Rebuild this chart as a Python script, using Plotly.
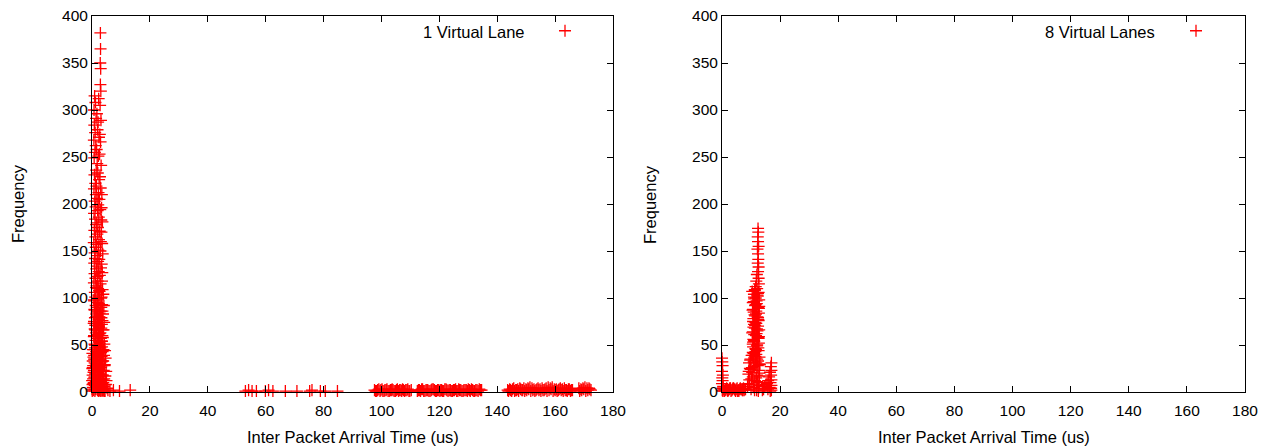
import plotly.graph_objects as go

# ---------------- 1 Virtual Lane : main cluster (x in us, y = frequency) ----------------
vl1_a_x = [0.02, 0.05, 0.08, 0.12, 0.15, 0.18, 0.22, 0.26, 0.30, 0.34, 0.38, 0.42, 0.46, 0.50, 0.55, 0.60]
vl1_a_y = [3, 12, 1, 25, 41, 8, 18, 33, 5, 45, 14, 28, 2, 37, 21, 10]

vl1_b_x = [0.90, 1.20, 0.70, 1.40, 0.80, 1.10, 0.65, 1.30, 1.00, 0.75,
           1.45, 0.85, 1.15, 0.68, 1.35, 0.95, 1.25, 0.72, 1.05, 1.42,
           0.82, 1.18, 0.62, 1.32, 0.92, 1.08, 0.78, 1.48, 0.88, 1.22,
           0.66, 1.38, 0.98, 1.12, 0.74, 1.28, 0.84, 1.46, 1.02, 0.70,
           1.16, 0.94, 1.34, 0.64, 1.24, 0.86, 1.06, 1.44, 0.76, 1.20,
           0.90, 1.36, 0.68, 1.10, 0.80, 1.30, 0.96, 1.40, 1.00]
vl1_b_y = [315, 308, 300, 291, 284, 276, 268, 262, 255, 249,
           236, 231, 222, 216, 210, 203, 197, 190, 184, 178,
           172, 165, 159, 154, 148, 142, 137, 131, 126, 121,
           116, 111, 106, 101, 97, 92, 88, 83, 79, 75,
           71, 67, 63, 59, 55, 51, 47, 43, 39, 35,
           31, 27, 23, 19, 15, 11, 7, 3, 1]

vl1_c_x = [2.30, 1.70, 2.10, 1.90, 2.40, 1.60, 2.20, 1.80, 2.00, 2.45,
           1.55, 2.25, 1.75, 2.15, 1.95, 2.35, 1.65, 2.05, 1.85, 2.40,
           1.60, 2.20, 1.80, 2.10, 1.70, 2.30, 1.90, 2.00, 1.55, 2.45,
           2.15, 1.75, 2.35, 1.65, 2.05, 1.85, 2.25, 1.95, 2.40, 1.60,
           2.10, 1.80, 2.30, 1.70, 2.20, 1.90, 2.00, 2.45, 1.55, 2.15,
           1.75, 2.35, 1.65, 2.05, 1.85, 2.25, 1.95, 2.40, 1.60, 2.10]
vl1_c_y = [312, 296, 287, 279, 271, 258, 251, 243, 233, 226,
           219, 212, 206, 199, 193, 186, 180, 175, 168, 162,
           157, 151, 145, 139, 134, 128, 123, 118, 113, 108,
           103, 99, 94, 90, 86, 81, 77, 73, 69, 65,
           61, 57, 53, 49, 45, 41, 37, 33, 29, 25,
           21, 17, 13, 9, 5, 1, 2, 62, 85, 110]

vl1_d_x = [2.90, 2.95, 2.85, 3.00, 2.90, 3.05, 2.80, 3.10, 2.70, 2.95,
           2.60, 3.15, 2.75, 3.00, 2.55, 2.85, 3.20, 2.65, 3.05, 2.90,
           2.50, 3.10, 2.70, 2.95, 2.60, 3.15, 2.80, 3.00, 2.55, 2.85,
           3.20, 2.65, 3.05, 2.75, 2.90, 3.10, 2.60, 3.00, 2.70, 3.15,
           2.80, 2.95, 2.50, 3.05, 2.65, 3.10, 2.85]
vl1_d_y = [382, 365, 350, 344, 327, 320, 305, 289, 274, 266,
           253, 241, 229, 217, 205, 194, 183, 171, 160, 150,
           141, 132, 124, 115, 107, 100, 93, 86, 80, 74,
           68, 62, 57, 52, 47, 42, 38, 34, 30, 26,
           22, 18, 14, 10, 6, 2, 1]

vl1_e_x = [3.40, 3.30, 3.60, 3.25, 3.50, 3.70, 3.35, 3.55, 3.45, 3.65,
           3.30, 3.50, 3.60, 3.25, 3.40, 3.70, 3.55, 3.35, 3.45, 3.65,
           3.30, 3.60, 3.50, 3.25, 3.40, 3.70, 3.55, 3.35, 3.65, 3.45]
vl1_e_y = [210, 196, 181, 170, 158, 147, 136, 127, 118, 109,
           101, 93, 86, 79, 72, 66, 60, 54, 48, 43,
           38, 33, 28, 23, 18, 13, 9, 5, 2, 1]

vl1_f_x = [3.90, 4.10, 3.80, 4.20, 4.00, 3.75, 4.25, 3.95, 4.15, 3.85,
           4.30, 4.05, 3.80, 4.20, 3.90, 4.10, 4.00, 4.30, 3.85, 4.15]
vl1_f_y = [104, 92, 83, 74, 66, 58, 51, 45, 39, 33,
           28, 23, 18, 14, 10, 6, 3, 1, 2, 1]

vl1_g_x = [4.5, 4.7, 4.4, 4.9, 4.6, 5.0, 4.8, 5.2, 4.5, 5.5, 6.2, 7.4, 9.5, 13.2]
vl1_g_y = [44, 36, 29, 22, 17, 12, 8, 4, 1, 2, 1, 2, 1, 2]

vl1_h_x = [0.70, 1.90, 3.20, 0.90, 2.60, 1.40, 3.60, 0.60, 2.20, 1.10,
           2.90, 0.70, 1.70, 3.40, 1.00, 2.40, 0.80, 3.00, 1.50, 2.10,
           0.70, 3.30, 1.30, 2.70, 0.30, 1.80, 3.70, 1.20, 2.50, 0.90,
           3.10, 1.60, 2.30, 0.50, 2.80, 1.40, 3.50, 2.00, 1.10, 2.60]
vl1_h_y = [98, 95, 90, 87, 84, 80, 76, 73, 70, 66,
           63, 60, 57, 54, 50, 48, 45, 42, 40, 38,
           35, 32, 30, 28, 26, 24, 22, 20, 18, 16,
           14, 12, 11, 9, 8, 6, 5, 4, 3, 2]

# ---------------- 1 Virtual Lane : long tail ----------------
vl1_t1_x = [53.0, 54.1, 55.3, 56.8, 59.9, 61.0, 62.5, 66.8, 70.8, 75.2, 76.0, 78.9, 80.6, 84.8]
vl1_t1_y = [1, 2, 1, 1, 1, 2, 1, 1, 1, 1, 2, 1, 1, 1]

vl1_t2_x = [97.6, 98.3, 99.1, 99.8, 100.5, 101.2, 101.9, 102.7, 103.4, 104.0,
            104.8, 105.5, 106.3, 107.0, 107.6, 108.4, 109.1, 109.8, 110.3, 112.4,
            113.1, 113.9, 114.6, 115.4, 116.0, 116.8, 117.5, 118.3, 119.0, 119.8,
            120.5, 121.1, 121.9, 122.6, 123.4, 124.1, 124.9, 125.6, 126.4, 127.0,
            127.8, 128.5, 129.3, 130.0, 130.7, 131.5, 132.2, 133.0, 133.8, 134.6]
vl1_t2_y = [2, 1, 3, 2, 1, 2, 3, 1, 2, 2,
            1, 3, 2, 1, 2, 2, 3, 1, 2, 1,
            2, 3, 1, 2, 2, 1, 3, 2, 1, 2,
            2, 1, 3, 2, 2, 1, 2, 3, 1, 2,
            1, 2, 2, 3, 1, 2, 1, 2, 3, 2]

vl1_t2b_x = [98.0, 98.7, 99.5, 100.2, 100.9, 101.6, 102.3, 103.1, 103.7, 104.4,
             105.2, 105.9, 106.7, 107.3, 108.0, 108.8, 109.5, 112.8, 113.5, 114.2,
             115.0, 115.7, 116.4, 117.2, 117.9, 118.7, 119.4, 120.2, 120.8, 121.5,
             122.3, 123.0, 123.8, 124.5, 125.2, 126.0, 126.7, 127.4, 128.2, 128.9,
             129.7, 130.4, 131.1, 131.9, 132.6, 133.4, 134.2]
vl1_t2b_y = [1, 2, 1, 3, 1, 2, 1, 2, 3, 1,
             2, 1, 2, 3, 1, 2, 1, 2, 1, 3,
             1, 2, 1, 2, 3, 1, 2, 1, 2, 1,
             3, 1, 2, 1, 2, 1, 3, 2, 1, 2,
             1, 2, 3, 1, 2, 1, 2]

vl1_t3_x = [143.6, 144.3, 145.0, 145.7, 146.4, 147.1, 147.8, 148.5, 149.2, 149.9,
            150.6, 151.3, 152.0, 152.7, 153.4, 154.1, 154.8, 155.5, 156.2, 156.9,
            157.6, 158.3, 159.0, 159.7, 160.4, 161.1, 161.8, 162.5, 163.2, 163.9,
            164.6, 165.3, 166.0, 168.2, 168.9, 169.6, 170.3, 171.0, 171.7, 172.4]
vl1_t3_y = [2, 3, 1, 4, 2, 3, 4, 2, 4, 3,
            4, 5, 4, 3, 2, 4, 3, 4, 2, 4,
            5, 4, 5, 3, 3, 2, 4, 3, 4, 2,
            3, 1, 2, 4, 3, 4, 5, 4, 4, 2]

vl1_t3b_x = [143.9, 144.6, 145.3, 146.0, 146.7, 147.4, 148.1, 148.8, 149.5, 150.2,
             150.9, 151.6, 152.3, 153.0, 153.7, 154.4, 155.1, 155.8, 156.5, 157.2,
             157.9, 158.6, 159.3, 160.0, 160.7, 161.4, 162.1, 162.8, 163.5, 164.2,
             164.9, 165.6, 168.5, 169.2, 169.9, 170.6, 171.3, 172.0]
vl1_t3b_y = [1, 2, 3, 1, 2, 1, 3, 2, 1, 2,
             3, 1, 2, 1, 3, 2, 1, 2, 3, 1,
             2, 3, 1, 2, 1, 3, 2, 1, 2, 1,
             3, 2, 1, 2, 3, 1, 2, 3]

# ---------------- 8 Virtual Lanes ----------------
vl8_a_x = [0.0, 0.1, 0.2, 0.0, 0.3, 0.1, 0.2, 0.0, 0.4, 0.2, 0.1, 0.3]
vl8_a_y = [36, 32, 28, 22, 18, 15, 12, 9, 6, 4, 2, 1]

vl8_b_x = [0.6, 1.1, 1.6, 2.0, 2.5, 2.9, 3.4, 3.8, 4.3, 4.7, 5.2, 5.6, 6.1, 6.5, 7.0, 7.4, 7.9,
           0.4, 0.8, 1.3, 1.8, 2.2, 2.7, 3.1, 3.6, 4.0, 4.5, 4.9, 5.4, 5.8, 6.3, 6.8, 7.2, 7.6, 8.1]
vl8_b_y = [3, 2, 4, 1, 3, 4, 2, 4, 3, 1, 4, 2, 3, 3, 2, 4, 3,
           4, 1, 3, 2, 2, 4, 1, 3, 4, 2, 3, 1, 1, 4, 3, 2, 2, 3]

vl8_top_x = [12.4, 12.5, 12.3, 12.4, 12.6, 12.2, 12.4, 12.5, 12.3, 12.6, 12.4, 12.0, 12.6, 11.8, 12.7, 11.6]
vl8_top_y = [174, 170, 165, 160, 155, 152, 147, 141, 137, 133, 128, 125, 121, 118, 115, 112]

vl8_mid_x = [12.1, 11.3, 12.6, 11.0, 12.3, 11.6, 12.8, 10.9, 12.0, 11.4,
             12.5, 10.7, 11.8, 12.7, 11.2, 12.2, 10.8, 12.6, 11.5, 11.0,
             12.4, 11.3, 12.8, 10.6, 11.9, 11.7, 12.5, 10.8, 11.1, 12.7,
             12.1, 10.7, 11.5, 12.6, 10.6, 11.8,
             11.3, 12.4, 11.0, 11.9, 11.6, 12.7, 10.9, 11.4, 12.5, 11.8,
             10.8, 12.2, 11.1, 12.6, 10.7, 12.0, 11.7, 10.9,
             10.4, 12.2, 11.1, 10.6, 12.8, 10.5, 11.7, 12.4, 10.7, 11.4,
             12.0, 10.4, 12.7, 11.0, 10.6, 12.5, 11.5, 10.5, 12.1, 11.8]
vl8_mid_y = [110, 108, 106, 104, 102, 100, 98, 96, 94, 92,
             90, 88, 86, 84, 82, 80, 78, 76, 74, 72,
             70, 68, 66, 64, 62, 60, 58, 56, 54, 52,
             50, 48, 46, 44, 42, 40,
             109, 105, 101, 97, 93, 89, 85, 81, 77, 73,
             69, 65, 61, 57, 53, 49, 45, 41,
             107, 103, 99, 95, 91, 87, 83, 79, 75, 71,
             67, 63, 59, 55, 51, 47, 43, 39, 35, 31]

vl8_low_x = [10.2, 12.9, 9.8, 12.4, 9.3, 13.0, 11.0, 9.6, 12.7, 10.4,
             9.1, 12.8, 11.8, 9.4, 12.2, 9.0, 12.6, 10.8, 10.0, 12.5,
             11.5, 9.7, 12.9, 10.3, 9.2, 12.0, 10.1, 12.8, 8.8, 11.2,
             11.6, 10.9, 12.3, 9.9, 12.9, 10.6, 11.3, 9.5, 12.6, 11.9]
vl8_low_y = [39, 37, 35, 33, 31, 29, 27, 25, 23, 21,
             19, 17, 15, 13, 11, 9, 7, 5, 3, 1,
             38, 34, 30, 26, 22, 18, 14, 10, 6, 2,
             36, 32, 28, 24, 20, 16, 12, 8, 4, 2]

vl8_bump_x = [17.0, 16.8, 17.0, 16.5, 16.9, 16.2, 17.0, 15.9, 16.7, 15.5,
              17.0, 15.1, 14.7, 16.4, 16.9, 14.3, 17.0, 15.8, 13.9, 16.6]
vl8_bump_y = [31, 27, 23, 21, 18, 16, 13, 12, 10, 9,
              7, 8, 6, 5, 4, 3, 2, 3, 2, 1]

x_ticks = [0, 20, 40, 60, 80, 100, 120, 140, 160, 180]
y_ticks = [0, 50, 100, 150, 200, 250, 300, 350, 400]

vl1_x = (vl1_a_x + vl1_b_x + vl1_c_x + vl1_d_x + vl1_e_x + vl1_f_x + vl1_g_x + vl1_h_x
         + vl1_t1_x + vl1_t2_x + vl1_t2b_x + vl1_t3_x + vl1_t3b_x)
vl1_y = (vl1_a_y + vl1_b_y + vl1_c_y + vl1_d_y + vl1_e_y + vl1_f_y + vl1_g_y + vl1_h_y
         + vl1_t1_y + vl1_t2_y + vl1_t2b_y + vl1_t3_y + vl1_t3b_y)
vl8_x = vl8_a_x + vl8_b_x + vl8_low_x + vl8_mid_x + vl8_top_x + vl8_bump_x
vl8_y = vl8_a_y + vl8_b_y + vl8_low_y + vl8_mid_y + vl8_top_y + vl8_bump_y

FONT = "Liberation Sans, Arial, Helvetica, sans-serif"
RED = "#ff0000"
W, H = 1271, 448

marker = dict(symbol="cross-thin", size=8.6, color=RED, line=dict(color=RED, width=1.3))

fig = go.Figure()
fig.add_trace(go.Scatter(x=vl1_x, y=vl1_y, mode="markers", name="", marker=marker, showlegend=True,
                         cliponaxis=False, xaxis="x", yaxis="y", legend="legend"))
fig.add_trace(go.Scatter(x=vl8_x, y=vl8_y, mode="markers", name="", marker=marker, showlegend=True,
                         cliponaxis=False, xaxis="x2", yaxis="y2", legend="legend2"))

def xax(domain, anchor):
    return dict(domain=domain, anchor=anchor, range=[0, 180], tickvals=x_ticks, automargin=False,
                ticks="inside", ticklen=6, tickcolor="black", tickwidth=1,
                showline=True, linecolor="black", linewidth=1, mirror="ticks",
                showgrid=False, zeroline=False, ticklabelstandoff=4,
                tickfont=dict(family=FONT, size=15.5, color="black"))

def yax(domain, anchor):
    return dict(domain=domain, anchor=anchor, range=[0, 400], tickvals=y_ticks, automargin=False,
                ticks="inside", ticklen=6, tickcolor="black", tickwidth=1,
                showline=True, linecolor="black", linewidth=1, mirror="ticks",
                showgrid=False, zeroline=False, ticklabelstandoff=0,
                tickfont=dict(family=FONT, size=15.5, color="black"))

title_font = dict(family=FONT, size=16.5, color="black")

def note(text, x, y, xanchor="center", angle=0):
    return dict(text=text, xref="paper", yref="paper", x=x / W, y=(H - y) / H,
                xanchor=xanchor, yanchor="middle", showarrow=False, textangle=angle,
                font=title_font)

ydom = [(H - 392) / H, (H - 16) / H]
fig.update_layout(
    width=W, height=H, margin=dict(l=0, r=0, t=0, b=0, autoexpand=False),
    paper_bgcolor="white", plot_bgcolor="white", showlegend=True,
    xaxis=xax([92 / W, 613 / W], "y"),
    yaxis=yax(ydom, "x"),
    xaxis2=xax([722 / W, 1245 / W], "y2"),
    yaxis2=yax(ydom, "x2"),
    legend=dict(x=545 / W, y=(H - 31) / H, xanchor="left", yanchor="middle",
                bgcolor="rgba(0,0,0,0)", borderwidth=0, font=dict(family=FONT, size=15)),
    legend2=dict(x=1176 / W, y=(H - 31) / H, xanchor="left", yanchor="middle",
                 bgcolor="rgba(0,0,0,0)", borderwidth=0, font=dict(family=FONT, size=15)),
    annotations=[
        note("1 Virtual Lane", 527, 32, xanchor="right"),
        note("8 Virtual Lanes", 1157, 32, xanchor="right"),
        note("Inter Packet Arrival Time (us)", 352.5, 437),
        note("Inter Packet Arrival Time (us)", 983.5, 437),
        note("Frequency", 18, 204, angle=-90),
        note("Frequency", 650, 204, angle=-90),
    ],
)

fig.write_html("out.html")
